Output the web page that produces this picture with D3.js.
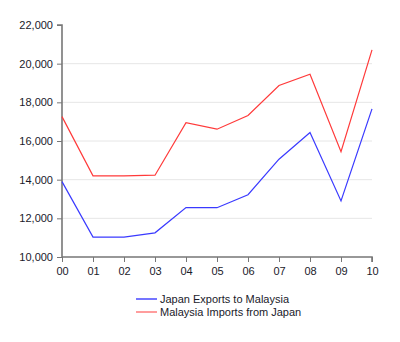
<!DOCTYPE html>
<html>
<head>
<meta charset="utf-8">
<script src="https://cdn.jsdelivr.net/npm/d3@7"></script>
<style>
  html, body { margin: 0; padding: 0; background: #fff; }
  svg { display: block; font-family: "Liberation Sans", Arial, sans-serif; }
</style>
</head>
<body>
<svg id="chart" width="400" height="342"></svg>
<script>
// Years (two-digit labels) and trade values
const years = ["00", "01", "02", "03", "04", "05", "06", "07", "08", "09", "10"];
const japanExports = [13900, 11030, 11030, 11250, 12560, 12550, 13220, 15060, 16440, 12900, 17660];
const malaysiaImports = [17260, 14200, 14200, 14230, 16950, 16610, 17320, 18870, 19450, 15450, 20710];
const seriesNames = ["Japan Exports to Malaysia", "Malaysia Imports from Japan"];
const seriesColors = ["#3a3aff", "#ff3a3a"];
const yTicks = [10000, 12000, 14000, 16000, 18000, 20000, 22000];

const svg = d3.select("#chart");
const plotLeft = 62, plotRight = 372, plotTop = 25, plotBottom = 257;

const x = d3.scalePoint().domain(years).range([plotLeft, plotRight]);
const y = d3.scaleLinear().domain([10000, 22000]).range([plotBottom, plotTop]);

// Horizontal gridlines
svg.append("g")
  .selectAll("line")
  .data(yTicks.filter(t => t > 10000 && t < 22000))
  .join("line")
  .attr("x1", plotLeft).attr("x2", plotRight)
  .attr("y1", d => y(d)).attr("y2", d => y(d))
  .attr("stroke", "#e6e6e6").attr("stroke-width", 1);

// Axes
const fmt = d3.format(",");
const yAxis = svg.append("g")
  .attr("transform", `translate(${plotLeft},0)`)
  .call(d3.axisLeft(y).tickValues(yTicks).tickFormat(fmt).tickSize(5).tickPadding(4));
const xAxis = svg.append("g")
  .attr("transform", `translate(0,${plotBottom})`)
  .call(d3.axisBottom(x).tickSize(5).tickPadding(5));

[yAxis, xAxis].forEach(g => {
  g.select(".domain").attr("stroke", "#777").attr("stroke-width", 1.6);
  g.selectAll(".tick line").attr("stroke", "#777");
  g.selectAll(".tick text")
    .attr("fill", "#1a1a2a")
    .style("font-size", "11px")
    .style("font-family", "'Liberation Sans', Arial, sans-serif");
});
yAxis.select(".domain").attr("d", `M-5,${y(22000)}H0V${plotBottom}`);
xAxis.select(".domain").attr("d", `M${plotLeft},0H${plotRight}V5`);

// Lines
const line = d3.line().x((d, i) => x(years[i])).y(d => y(d));
[japanExports, malaysiaImports].forEach((vals, k) => {
  svg.append("path")
    .datum(vals)
    .attr("fill", "none")
    .attr("stroke", seriesColors[k])
    .attr("stroke-width", 1.2)
    .attr("d", line);
});

// Legend
const legend = svg.append("g").attr("transform", "translate(136,299)");
seriesNames.forEach((name, i) => {
  const row = legend.append("g").attr("transform", `translate(0,${i * 13})`);
  row.append("line")
    .attr("x1", 0).attr("x2", 21).attr("y1", 0).attr("y2", 0)
    .attr("stroke", seriesColors[i]).attr("stroke-width", 1.4)
    .attr("opacity", i === 1 ? 0.7 : 1);
  row.append("text")
    .attr("x", 24).attr("y", 0).attr("dy", "0.35em")
    .attr("fill", "#1a1a2a")
    .style("font-size", "11px")
    .text(name);
});
</script>
</body>
</html>
